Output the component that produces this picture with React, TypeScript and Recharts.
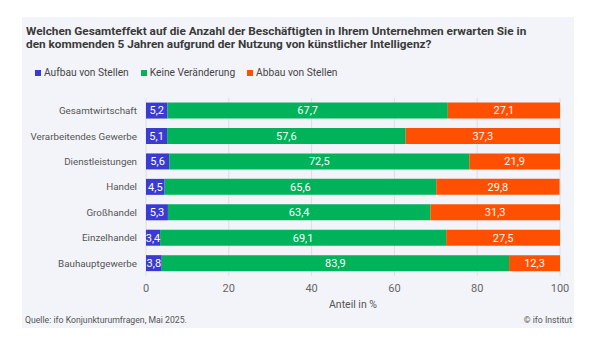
import { BarChart, Bar, XAxis, YAxis, CartesianGrid, LabelList } from "recharts";

const categories = [
  "Gesamtwirtschaft",
  "Verarbeitendes Gewerbe",
  "Dienstleistungen",
  "Handel",
  "Großhandel",
  "Einzelhandel",
  "Bauhauptgewerbe",
];
const aufbau = [5.2, 5.1, 5.6, 4.5, 5.3, 3.4, 3.8];
const keine = [67.7, 57.6, 72.5, 65.6, 63.4, 69.1, 83.9];
const abbau = [27.1, 37.3, 21.9, 29.8, 31.3, 27.5, 12.3];
const ticks = [0, 20, 40, 60, 80, 100];

const series = [
  { key: "aufbau", name: "Aufbau von Stellen", color: "#3b3bd4" },
  { key: "keine", name: "Keine Veränderung", color: "#00b259" },
  { key: "abbau", name: "Abbau von Stellen", color: "#ff4f00" },
];

const data = categories.map((name, i) => ({
  name,
  aufbau: aufbau[i],
  keine: keine[i],
  abbau: abbau[i],
}));

const FONT = "Roboto, 'Noto Sans', sans-serif";
const fmt = (v: any) => String(v).replace(".", ",");

// category label without wrapping
function CatTick(props: any) {
  const { x, y, payload } = props;
  return (
    <text x={x - 1} y={y} dy="0.35em" textAnchor="end" fontSize={9.8} fill="#555" fontFamily={FONT}>
      {payload.value}
    </text>
  );
}

export default function App() {
  return (
    <div style={{ position: "absolute", left: 0, top: 0, width: 596, height: 357, background: "#fff", fontFamily: FONT }}>
      <div style={{ position: "absolute", left: 22, top: 17, width: 552, height: 311, background: "#f3f4f9" }}>
        <div style={{ position: "absolute", left: 4, top: 8, fontSize: 11.8, fontWeight: 700, color: "#3a3a3a", lineHeight: "13px", whiteSpace: "nowrap" }}>
          Welchen Gesamteffekt auf die Anzahl der Beschäftigten in Ihrem Unternehmen erwarten Sie in
          <br />
          den kommenden 5 Jahren aufgrund der Nutzung von künstlicher Intelligenz?
        </div>
        {/* legend */}
        <div style={{ position: "absolute", left: 13, top: 50, display: "flex", gap: 12, fontSize: 10.2, lineHeight: "12px", color: "#444" }}>
          {series.map((s) => (
            <span key={s.key} style={{ display: "flex", alignItems: "center" }}>
              <span style={{ width: 6, height: 6, background: s.color, display: "inline-block", marginRight: 3 }} />
              {s.name}
            </span>
          ))}
        </div>
        <BarChart
          width={552}
          height={311}
          data={data}
          layout="vertical"
          barCategoryGap="18%"
          margin={{ top: 81, right: 14, bottom: 20, left: 0 }}
          style={{ position: "absolute", left: 0, top: 0 }}
        >
          <CartesianGrid horizontal={false} stroke="#dcdde6" />
          <XAxis
            type="number"
            domain={[0, 100]}
            ticks={ticks}
            axisLine={false}
            tickLine={false}
            height={32}
            tick={{ fontSize: 11, fill: "#666", fontFamily: FONT }}
            label={{ value: "Anteil in %", position: "insideBottom", offset: 0, fontSize: 10.5, fill: "#555", fontFamily: FONT }}
          />
          <YAxis
            type="category"
            dataKey="name"
            width={124}
            axisLine={false}
            tickLine={false}
            tick={<CatTick />}
          />
          {series.map((s) => (
            <Bar key={s.key} dataKey={s.key} name={s.name} stackId="a" fill={s.color} isAnimationActive={false}>
              <LabelList
                dataKey={s.key}
                position="center"
                formatter={fmt}
                fill="#fff"
                stroke="none"
                fontSize={11}
                fontFamily={FONT}
              />
            </Bar>
          ))}
        </BarChart>
        <div style={{ position: "absolute", left: 3, top: 298, fontSize: 8.7, color: "#555" }}>
          Quelle: ifo Konjunkturumfragen, Mai 2025.
        </div>
        <div style={{ position: "absolute", right: 2, top: 298, fontSize: 8.7, color: "#555" }}>
          © ifo Institut
        </div>
      </div>
    </div>
  );
}
